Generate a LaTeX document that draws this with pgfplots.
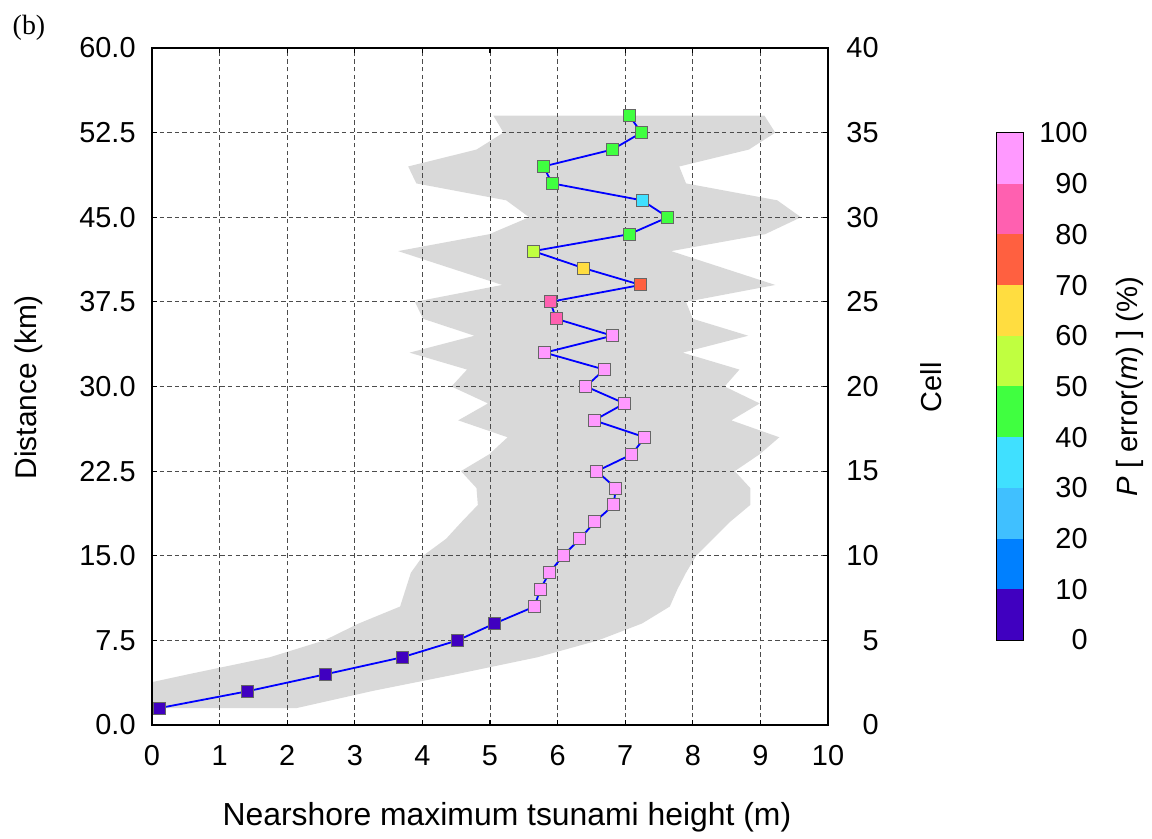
\documentclass[border=0pt]{standalone}
\usepackage{fontspec}
\setmainfont{Liberation Sans}
\newfontfamily\seriffont{Liberation Serif}
\usepackage{pgfplots}
\pgfplotsset{compat=1.18}
\usepackage{pgfplotstable}

% colour classes of P[error(m)], 10 % steps
\definecolor{c0}{HTML}{4000C0}
\definecolor{c1}{HTML}{0080FF}
\definecolor{c2}{HTML}{40C0FF}
\definecolor{c3}{HTML}{40E0FF}
\definecolor{c4}{HTML}{40FF40}
\definecolor{c5}{HTML}{C0FF40}
\definecolor{c6}{HTML}{FFDD40}
\definecolor{c7}{HTML}{FF6040}
\definecolor{c8}{HTML}{FF60B0}
\definecolor{c9}{HTML}{FF99FF}
\definecolor{bandgray}{HTML}{D9D9D9}

\newcommand{\tickfont}{\fontsize{14.5}{17}\selectfont}

% nearshore maximum height per cell (distance = 1.5 km x cell)
\pgfplotstableread{
h     d     cls
0.11  1.5   c0
1.42  3.0   c0
2.57  4.5   c0
3.70  6.0   c0
4.52  7.5   c0
5.07  9.0   c0
5.66  10.5  c9
5.74  12.0  c9
5.88  13.5  c9
6.08  15.0  c9
6.33  16.5  c9
6.55  18.0  c9
6.83  19.5  c9
6.86  21.0  c9
6.58  22.5  c9
7.10  24.0  c9
7.29  25.5  c9
6.54  27.0  c9
6.99  28.5  c9
6.42  30.0  c9
6.69  31.5  c9
5.81  33.0  c9
6.81  34.5  c9
5.98  36.0  c8
5.89  37.5  c8
7.23  39.0  c7
6.38  40.5  c6
5.64  42.0  c5
7.06  43.5  c4
7.63  45.0  c4
7.25  46.5  c3
5.92  48.0  c4
5.79  49.5  c4
6.81  51.0  c4
7.24  52.5  c4
7.06  54.0  c4
}\heights

% range band: left edge upwards, then right edge downwards
\pgfplotstableread{
x     y
0.00  1.5
0.00  3.8
0.54  4.5
1.74  6.0
2.55  7.5
3.06  9.0
3.67  10.5
3.75  12.0
3.83  13.5
4.01  15.0
4.35  16.5
4.58  18.0
4.82  19.5
4.80  21.0
4.57  22.5
4.99  24.0
5.26  25.5
4.53  27.0
4.97  28.5
4.43  30.0
4.66  31.5
3.81  33.0
4.77  34.5
4.01  36.0
3.89  37.5
5.18  39.0
4.41  40.5
3.64  42.0
4.99  43.5
5.58  45.0
5.24  46.5
3.91  48.0
3.79  49.5
4.80  51.0
5.20  52.5
5.05  54.0
9.06  54.0
9.22  52.5
8.83  51.0
7.80  49.5
7.90  48.0
9.25  46.5
9.60  45.0
9.07  43.5
7.68  42.0
8.45  40.5
9.22  39.0
7.90  37.5
8.00  36.0
8.82  34.5
7.85  33.0
8.69  31.5
8.47  30.0
8.99  28.5
8.57  27.0
9.28  25.5
8.99  24.0
8.62  22.5
8.85  21.0
8.85  19.5
8.55  18.0
8.30  16.5
8.05  15.0
7.90  13.5
7.77  12.0
7.66  10.5
7.25  9.0
6.60  7.5
5.70  6.0
4.50  4.5
3.25  3.0
2.14  1.5
}\band

\pgfplotsset{
  every axis/.append style={
    scale only axis,
    tick label style={font=\tickfont, inner sep=0pt},
    /pgf/number format/assume math mode=true,
  },
  frame/.style={
    width=338bp, height=338.5bp,
    xmin=0, xmax=10,
    tick style={black, line width=0.6bp},
    major tick length=2.5bp,
    tick align=inside,
    axis line style={line width=1.3bp},
  },
}

\begin{document}
\begin{tikzpicture}
% gray range band underneath everything
\begin{axis}[frame, ymin=0, ymax=60, hide axis]
\addplot[fill=bandgray, draw=none] table[x=x, y=y] {\band};
\end{axis}

% main frame: grid, heights and coloured cells
\begin{axis}[
  frame, ymin=0, ymax=60,
  xtick={0,1,...,10},
  ytick={0,7.5,15,22.5,30,37.5,45,52.5,60},
  ytick pos=left, xtick pos=both,
  yticklabel style={/pgf/number format/fixed, /pgf/number format/fixed zerofill,
    /pgf/number format/precision=1, anchor=east, xshift=-8bp},
  xticklabel style={anchor=north, yshift=-10bp},
  grid=major,
  major grid style={dash pattern=on 2.2bp off 1.6bp, line width=0.5bp, black!70},
  xlabel={Nearshore maximum tsunami height (m)},
  ylabel={Distance (km)},
  xlabel style={font=\fontsize{16}{19}\selectfont, at={(axis description cs:0.525,-0.136)}, anchor=center},
  ylabel style={font=\fontsize{15}{18}\selectfont, at={(axis description cs:-0.183,0.499)}, anchor=center},
]
\addplot[blue, line width=0.9bp, no marks] table[x=h, y=d] {\heights};
\addplot[scatter, only marks, mark=square*, mark size=3bp,
  point meta=explicit symbolic,
  scatter/classes={
    c0={mark=square*, draw=black!60, fill=c0},
    c3={mark=square*, draw=black!60, fill=c3},
    c4={mark=square*, draw=black!60, fill=c4},
    c5={mark=square*, draw=black!60, fill=c5},
    c6={mark=square*, draw=black!60, fill=c6},
    c7={mark=square*, draw=black!60, fill=c7},
    c8={mark=square*, draw=black!60, fill=c8},
    c9={mark=square*, draw=black!60, fill=c9}},
  every mark/.append style={line width=0.5bp}]
  table[x=h, y=d, meta=cls] {\heights};
\end{axis}

% cell scale on the right, sharing the same frame
\begin{axis}[
  frame, ymin=0, ymax=40,
  xtick=\empty,
  ytick={0,5,...,40},
  ytick pos=right,
  yticklabel pos=right,
  yticklabel style={anchor=east, xshift=25.5bp},
  ylabel={Cell},
  ylabel style={font=\fontsize{14.5}{17}\selectfont, at={(axis description cs:1.152,0.499)}, anchor=center},
]
\end{axis}

% discrete colour scale
\begin{axis}[
  at={(422.5bp,42.5bp)}, anchor=south west,
  width=13bp, height=253.5bp,
  xmin=0, xmax=1, ymin=0, ymax=100,
  tick style={draw=none},
  xtick=\empty, ytick={0,10,...,100},
  yticklabel pos=right,
  yticklabel style={anchor=east, xshift=32.5bp},
  axis line style={line width=0.8bp},
  ylabel={\textit{P} [ error(\textit{m}) ] (\%)},
  ylabel style={font=\fontsize{14.7}{17}\selectfont, at={(axis description cs:5.12,0.5)}, anchor=center},
]
\addplot[fill=c0, draw=none] coordinates {(0,0) (1,0) (1,10) (0,10)};
\addplot[fill=c1, draw=none] coordinates {(0,10) (1,10) (1,20) (0,20)};
\addplot[fill=c2, draw=none] coordinates {(0,20) (1,20) (1,30) (0,30)};
\addplot[fill=c3, draw=none] coordinates {(0,30) (1,30) (1,40) (0,40)};
\addplot[fill=c4, draw=none] coordinates {(0,40) (1,40) (1,50) (0,50)};
\addplot[fill=c5, draw=none] coordinates {(0,50) (1,50) (1,60) (0,60)};
\addplot[fill=c6, draw=none] coordinates {(0,60) (1,60) (1,70) (0,70)};
\addplot[fill=c7, draw=none] coordinates {(0,70) (1,70) (1,80) (0,80)};
\addplot[fill=c8, draw=none] coordinates {(0,80) (1,80) (1,90) (0,90)};
\addplot[fill=c9, draw=none] coordinates {(0,90) (1,90) (1,100) (0,100)};
\end{axis}

\node[font=\seriffont\fontsize{14}{16}\selectfont] at (-61.5bp,348.5bp) {(b)};

\pgfresetboundingbox
\path[use as bounding box] (-76bp,-57bp) rectangle (500bp,362.5bp);
\end{tikzpicture}
\end{document}
